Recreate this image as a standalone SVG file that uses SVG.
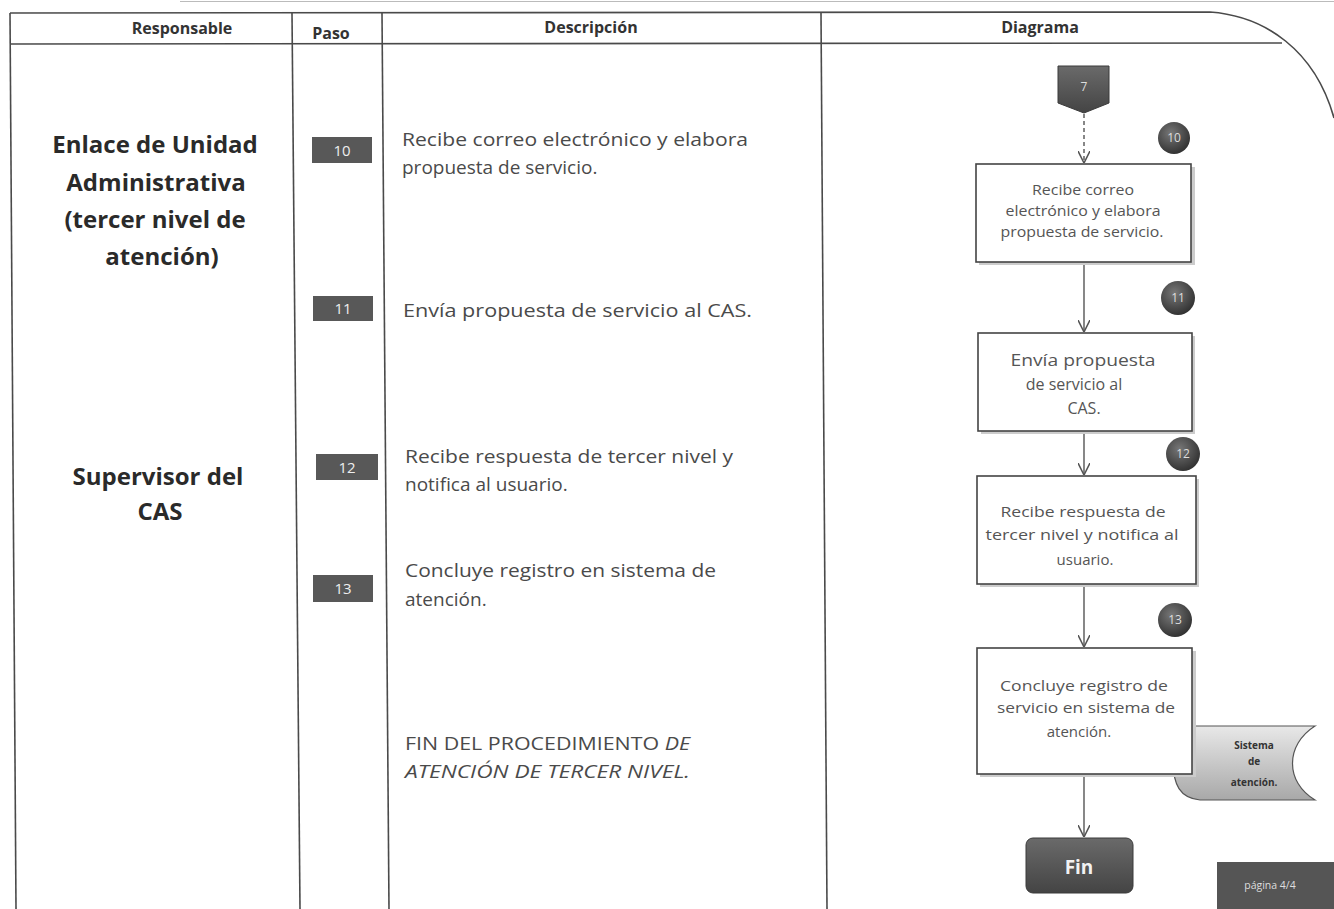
<svg xmlns="http://www.w3.org/2000/svg" width="1334" height="909" viewBox="0 0 1334 909">
<defs>
<style>
.grid{stroke:#4a4a4a;stroke-width:1.6;fill:none}
.hdr{font-family:"Open Sans","Liberation Sans",sans-serif;font-weight:bold;font-size:16px;fill:#333;text-anchor:middle}
.resp{font-family:"Open Sans","Liberation Sans",sans-serif;font-weight:bold;font-size:24px;fill:#2a2a2a;text-anchor:middle}
.desc{font-family:"Open Sans","Liberation Sans",sans-serif;font-size:19px;fill:#4a4a4a}
.fin{font-family:"Open Sans","Liberation Sans",sans-serif;font-size:18.5px;fill:#4a4a4a}
.pbox{fill:#585858}
.pnum{font-family:"Open Sans","Liberation Sans",sans-serif;font-size:15px;fill:#eee;text-anchor:middle}
.box{fill:#fff;stroke:#444;stroke-width:1.6}
.shadow{fill:#ccc}
.btxt{font-family:"Open Sans","Liberation Sans",sans-serif;font-size:15px;fill:#555;text-anchor:middle}
.btxt2{font-family:"Open Sans","Liberation Sans",sans-serif;font-size:16px;fill:#555;text-anchor:middle}
.stxt{font-family:"Open Sans","Liberation Sans",sans-serif;font-size:10px;font-weight:bold;fill:#333;text-anchor:middle}
.conn{stroke:#555;stroke-width:1.4;fill:none}
.circ{fill:url(#cg)}
.ctxt{font-family:"Open Sans","Liberation Sans",sans-serif;font-size:12px;fill:#ddd;text-anchor:middle}
</style>
<radialGradient id="cg" cx="0.4" cy="0.35" r="0.7">
<stop offset="0" stop-color="#777"/>
<stop offset="1" stop-color="#2e2e2e"/>
</radialGradient>
<linearGradient id="dg" x1="0" y1="0" x2="0" y2="1">
<stop offset="0" stop-color="#e8e8e8"/>
<stop offset="1" stop-color="#a8a8a8"/>
</linearGradient>
<linearGradient id="fg" x1="0" y1="0" x2="0" y2="1">
<stop offset="0" stop-color="#6a6a6a"/>
<stop offset="1" stop-color="#444"/>
</linearGradient>
<marker id="arr" viewBox="0 0 10 10" refX="10" refY="5" markerWidth="12" markerHeight="12" markerUnits="userSpaceOnUse" orient="auto">
<path d="M0,0 L10,5 L0,10" fill="none" stroke="#555" stroke-width="1.3"/>
</marker>
</defs>
<rect width="1334" height="909" fill="#fff"/>

<g id="table">
<line x1="180" y1="1.5" x2="1334" y2="1.5" stroke="#bbb" stroke-width="1.2"/>
<path class="grid" d="M10,13 L1210,12 C1265,16 1315,50 1334,118"/>
<line class="grid" x1="10" y1="44" x2="1282" y2="43"/>
<line class="grid" x1="10" y1="13" x2="16" y2="909"/>
<line class="grid" x1="292" y1="13" x2="300" y2="909"/>
<line class="grid" x1="382" y1="13" x2="389" y2="909"/>
<line class="grid" x1="821" y1="13" x2="827" y2="909"/>
<text class="hdr" x="182" y="34">Responsable</text>
<text class="hdr" x="331" y="39">Paso</text>
<text class="hdr" x="591" y="33">Descripción</text>
<text class="hdr" x="1040" y="33">Diagrama</text>
</g>

<g id="responsables">
<text class="resp" x="155" y="153">Enlace de Unidad</text>
<text class="resp" x="156" y="191">Administrativa</text>
<text class="resp" x="155" y="228">(tercer nivel de</text>
<text class="resp" x="162" y="265">atención)</text>
<text class="resp" x="158" y="485">Supervisor del</text>
<text class="resp" x="160" y="520">CAS</text>
</g>

<g id="pasos">
<rect class="pbox" x="312" y="137" width="60" height="26"/>
<text class="pnum" x="342" y="156">10</text>
<rect class="pbox" x="313" y="296" width="60" height="25"/>
<text class="pnum" x="343" y="314">11</text>
<rect class="pbox" x="316" y="454" width="62" height="26"/>
<text class="pnum" x="347" y="473">12</text>
<rect class="pbox" x="313" y="575" width="60" height="27"/>
<text class="pnum" x="343" y="594">13</text>
</g>

<g id="descripciones">
<text class="desc" x="402" y="146" textLength="346" lengthAdjust="spacingAndGlyphs">Recibe correo electrónico y elabora</text>
<text class="desc" x="402" y="174">propuesta de servicio.</text>
<text class="desc" x="403" y="317" textLength="349" lengthAdjust="spacingAndGlyphs">Envía propuesta de servicio al CAS.</text>
<text class="desc" x="405" y="463" textLength="328" lengthAdjust="spacingAndGlyphs">Recibe respuesta de tercer nivel y</text>
<text class="desc" x="405" y="491">notifica al usuario.</text>
<text class="desc" x="405" y="577" textLength="311" lengthAdjust="spacingAndGlyphs">Concluye registro en sistema de</text>
<text class="desc" x="405" y="606">atención.</text>
<text class="fin" x="405" y="750" textLength="285" lengthAdjust="spacingAndGlyphs">FIN DEL PROCEDIMIENTO <tspan font-style="italic">DE</tspan></text>
<text class="fin" x="405" y="778" font-style="italic" textLength="285" lengthAdjust="spacingAndGlyphs">ATENCIÓN DE TERCER NIVEL.</text>
</g>

<g id="connectors">
<line class="conn" x1="1084" y1="114" x2="1084" y2="163" stroke-dasharray="4,3" marker-end="url(#arr)"/>
<line class="conn" x1="1084" y1="263" x2="1084" y2="332" marker-end="url(#arr)"/>
<line class="conn" x1="1084" y1="432" x2="1084" y2="475" marker-end="url(#arr)"/>
<line class="conn" x1="1084" y1="585" x2="1084" y2="647" marker-end="url(#arr)"/>
<line class="conn" x1="1084" y1="775" x2="1084" y2="837" marker-end="url(#arr)"/>
</g>

<g id="conector7">
<path d="M1058,66 L1109,66 L1109,103 L1084,113 L1058,103 Z" fill="url(#fg)" stroke="#3a3a3a" stroke-width="1"/>
<text class="ctxt" x="1084" y="91">7</text>
</g>

<g id="paso10">
<rect class="shadow" x="979" y="167" width="216" height="98"/>
<rect class="box" x="976" y="164" width="215" height="98"/>
<text class="btxt" x="1083" y="195" textLength="102" lengthAdjust="spacingAndGlyphs">Recibe correo</text>
<text class="btxt" x="1083" y="216" textLength="155" lengthAdjust="spacingAndGlyphs">electrónico y elabora</text>
<text class="btxt" x="1082" y="237" textLength="163" lengthAdjust="spacingAndGlyphs">propuesta de servicio.</text>
<circle class="circ" cx="1174" cy="138" r="16"/>
<text class="ctxt" x="1174" y="142">10</text>
</g>

<g id="paso11">
<rect class="shadow" x="981" y="336" width="214" height="98"/>
<rect class="box" x="978" y="333" width="214" height="98"/>
<text class="btxt2" x="1083" y="366" textLength="145" lengthAdjust="spacingAndGlyphs">Envía propuesta</text>
<text class="btxt2" x="1074" y="390">de servicio al</text>
<text class="btxt2" x="1084" y="414">CAS.</text>
<circle class="circ" cx="1178" cy="298" r="17"/>
<text class="ctxt" x="1178" y="302">11</text>
</g>

<g id="paso12">
<rect class="shadow" x="980" y="479" width="219" height="108"/>
<rect class="box" x="977" y="476" width="219" height="108"/>
<text class="btxt" x="1083" y="517" textLength="165" lengthAdjust="spacingAndGlyphs">Recibe respuesta de</text>
<text class="btxt" x="1082" y="540" textLength="193" lengthAdjust="spacingAndGlyphs">tercer nivel y notifica al</text>
<text class="btxt" x="1085" y="565">usuario.</text>
<circle class="circ" cx="1183" cy="454" r="17"/>
<text class="ctxt" x="1183" y="458">12</text>
</g>

<g id="sistema">
<path d="M1180,726 L1315,726 C1285,745 1285,782 1315,800 L1200,800 C1180,798 1173,785 1173,760 C1173,740 1175,730 1180,726 Z" fill="url(#dg)" stroke="#555" stroke-width="1.2"/>
<text class="stxt" x="1254" y="749">Sistema</text>
<text class="stxt" x="1254" y="765">de</text>
<text class="stxt" x="1254" y="786">atención.</text>
</g>

<g id="paso13">
<rect class="shadow" x="980" y="651" width="216" height="126"/>
<rect class="box" x="977" y="648" width="215" height="126"/>
<text class="btxt" x="1084" y="691" textLength="168" lengthAdjust="spacingAndGlyphs">Concluye registro de</text>
<text class="btxt" x="1086" y="713" textLength="178" lengthAdjust="spacingAndGlyphs">servicio en sistema de</text>
<text class="btxt" x="1079" y="737">atención.</text>
<circle class="circ" cx="1175" cy="620" r="17"/>
<text class="ctxt" x="1175" y="624">13</text>
</g>

<g id="fin">
<rect x="1026" y="838" width="107" height="55" rx="7" fill="url(#fg)" stroke="#3a3a3a" stroke-width="1"/>
<text x="1079" y="874" font-family="Open Sans, Liberation Sans, sans-serif" font-size="19" font-weight="bold" fill="#f2f2f2" text-anchor="middle">Fin</text>
</g>

<g id="pagina">
<rect x="1217" y="862" width="117" height="47" fill="#555"/>
<text x="1270" y="889" font-family="Open Sans, Liberation Sans, sans-serif" font-size="10.5" fill="#ddd" text-anchor="middle">página 4/4</text>
</g>
</svg>
